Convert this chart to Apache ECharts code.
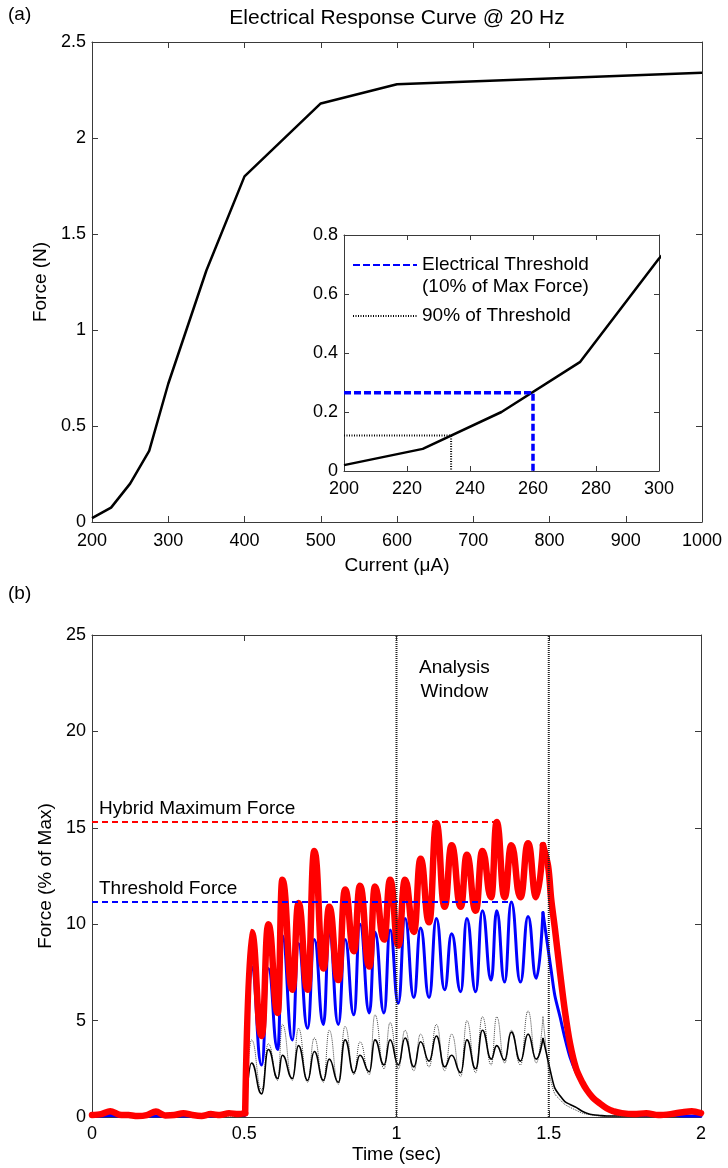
<!DOCTYPE html>
<html><head><meta charset="utf-8">
<script src="https://cdn.jsdelivr.net/npm/echarts@6/dist/echarts.min.js"></script>
<style>html,body{margin:0;padding:0;background:#fff}#c{width:728px;height:1168px}</style>
</head><body><div id="c"></div>
<script>
// ---------- Panel (a): electrical response curve ----------
const currents = [200, 225, 250, 275, 300, 350, 400, 500, 600, 1000];
const forces   = [0.02, 0.075, 0.2, 0.37, 0.72, 1.31, 1.8, 2.18, 2.28, 2.34];
const thresholdCurrent = 260, thresholdForceN = 0.265;
const ninetyCurrent = 234, ninetyForceN = 0.12;

// ---------- Panel (b): force vs time ----------
const time = [
  0, 0.03, 0.06, 0.09, 0.12, 0.15, 0.18, 0.21, 0.24, 0.27, 0.30, 0.33, 0.36, 0.39, 0.42, 0.45, 0.48, 0.503,
  0.524, 0.557, 0.579, 0.610, 0.625, 0.658, 0.678, 0.708, 0.730, 0.760, 0.779, 0.809, 0.831, 0.860, 0.880, 0.911,
  0.929, 0.959, 0.979, 1.006, 1.028, 1.057, 1.079, 1.107, 1.131, 1.158, 1.181, 1.211, 1.231, 1.260, 1.282, 1.311,
  1.329, 1.355, 1.377, 1.407, 1.432, 1.459, 1.481,
  1.498, 1.508, 1.52, 1.537, 1.553, 1.57, 1.59, 1.61, 1.625, 1.645, 1.668, 1.69, 1.711, 1.74, 1.78, 1.82, 1.86, 1.9, 1.94, 1.97, 2.0
];
const hybridForce = [
  0.1, 0.15, 0.3, 0.12, 0.1, 0.05, 0.1, 0.28, 0.08, 0.1, 0.2, 0.1, 0.05, 0.15, 0.1, 0.2, 0.15, 0.2,
  9.6, 4.2, 10.0, 5.4, 12.3, 6.6, 11.1, 6.6, 13.8, 7.7, 10.9, 7.1, 11.8, 8.6, 12.0, 7.8,
  11.95, 9.2, 12.3, 8.9, 12.3, 9.6, 13.4, 10.1, 15.25, 10.9, 14.1, 10.9, 13.6, 10.7, 13.8, 11.4,
  15.3, 11.4, 14.1, 11.4, 14.2, 11.4, 14.1,
  13.0, 11.3, 9.8, 7.5, 5.5, 3.8, 2.5, 1.8, 1.4, 1.0, 0.7, 0.45, 0.3, 0.2, 0.15, 0.2, 0.1, 0.15, 0.25, 0.3, 0.2
];
const thresholdStimForce = [
  0.05, 0.05, 0.08, 0.05, 0.05, 0.03, 0.05, 0.05, 0.05, 0.08, 0.05, 0.05, 0.03, 0.05, 0.1, 0.25, 0.1, 0.1,
  7.8, 2.7, 7.7, 3.5, 9.4, 4.0, 9.0, 4.6, 9.2, 4.8, 9.6, 4.8, 9.2, 5.3, 10.0, 5.4,
  9.6, 5.4, 9.7, 5.9, 10.3, 6.2, 9.8, 6.2, 10.3, 6.6, 9.5, 6.5, 10.3, 6.5, 10.7, 7.1,
  10.7, 7.0, 11.15, 7.0, 10.4, 7.2, 10.6,
  8.7, 7.6, 6.3, 5.2, 4.1, 3.1, 2.3, 1.7, 1.35, 1.0, 0.65, 0.4, 0.25, 0.15, 0.1, 0.1, 0.05, 0.1, 0.05, 0.05, 0.05
];
const subthresholdForce = [
  0.05, 0.05, 0.1, 0.05, 0.05, 0.05, 0.08, 0.05, 0.05, 0.05, 0.05, 0.08, 0.05, 0.05, 0.05, 0.1, 0.05, 0.05,
  2.8, 1.2, 3.5, 2.0, 3.2, 2.0, 3.7, 1.9, 3.4, 1.9, 3.0, 1.8, 4.0, 2.3, 3.2, 2.35,
  4.0, 2.7, 4.0, 2.7, 4.1, 2.6, 3.9, 2.9, 4.2, 2.6, 3.2, 2.3, 4.0, 2.5, 4.5, 3.0,
  3.7, 2.95, 4.4, 2.9, 4.3, 3.0, 4.1,
  2.9, 2.2, 1.5, 1.1, 0.8, 0.65, 0.5, 0.3, 0.2, 0.12, 0.08, 0.05, 0.05, 0.05, 0.05, 0.05, 0.05, 0.05, 0.1, 0.05, 0.05
];
const subthresholdDottedForce = [
  0.03, 0.05, 0.05, 0.03, 0.05, 0.05, 0.05, 0.03, 0.05, 0.05, 0.03, 0.05, 0.05, 0.05, 0.03, 0.05, 0.05, 0.05,
  4.0, 1.4, 3.8, 1.9, 4.8, 1.9, 4.6, 1.8, 4.1, 1.8, 4.5, 1.7, 4.7, 2.2, 3.9, 2.2,
  5.3, 2.5, 4.9, 2.5, 4.5, 2.4, 4.3, 2.6, 4.8, 2.4, 4.3, 2.1, 5.0, 2.3, 5.2, 2.7,
  5.2, 2.8, 4.5, 2.7, 5.5, 2.8, 5.2,
  2.6, 1.8, 1.2, 0.9, 0.65, 0.5, 0.35, 0.2, 0.15, 0.1, 0.05, 0.05, 0.05, 0.05, 0.05, 0.05, 0.05, 0.05, 0.05, 0.05, 0.05
];
// index boundaries of the recording: baseline end / last peak
const onsetIndex = 17, lastPeakIndex = 56;
const hybridMaxLevel = 15.3, hybridMaxEnd = 1.329;
const thresholdLevel = 11.15, thresholdLevelEnd = 1.38;
const windowStart = 1, windowEnd = 1.5;

// ---------- chart ----------
const FONT = '"Liberation Sans", Arial, Helvetica, sans-serif';
const AX = '#3a3a3a';
const chart = echarts.init(document.getElementById('c'), null, {renderer: 'canvas'});

function ax(extra, labels) {
  return Object.assign({
    type: 'value',
    axisLine: {show: true, onZero: false, lineStyle: {color: AX, width: 1}},
    axisTick: {show: true, inside: true, length: 6, lineStyle: {color: AX}},
    splitLine: {show: false},
    axisLabel: {show: labels !== false, color: '#000', fontSize: 18, fontFamily: FONT, margin: 6,
                formatter: v => String(v)},
    nameTextStyle: {color: '#000', fontSize: 19, fontFamily: FONT}
  }, extra);
}
function lbl(margin) { return {show: true, color: '#000', fontSize: 18, fontFamily: FONT, margin: margin, formatter: v => String(v)}; }
const inTick = {show: true, inside: true, length: 5, lineStyle: {color: AX}};
const zip = (xs, ys) => xs.map((x, i) => [x, ys[i]]);
const seg = (ys, a, b) => zip(time.slice(a, b + 1), ys.slice(a, b + 1));

// each trace is drawn in three pieces: baseline, stimulation (oscillating) and decay
function trace(name, ys, style, z) {
  const common = {type: 'line', xAxisIndex: 4, yAxisIndex: 4, symbol: 'none', lineStyle: style, z: z};
  return [
    Object.assign({name: name, data: seg(ys, 0, onsetIndex), smooth: 0.3}, common),
    Object.assign({name: name, data: seg(ys, onsetIndex, lastPeakIndex), smooth: 0.5, smoothMonotone: 'x'}, common),
    Object.assign({name: name, data: seg(ys, lastPeakIndex, time.length - 1), smooth: 0.3}, common)
  ];
}

const legendThr = 'Electrical Threshold\n(10% of Max Force)';
const option = {
  animation: false,
  backgroundColor: '#fff',
  grid: [
    {left: 92, top: 42, width: 610, height: 480},
    {left: 344, top: 235, width: 315, height: 236, show: true, backgroundColor: '#fff', borderWidth: 0, z: 5},
    {left: 92, top: 635, width: 609, height: 482}
  ],
  xAxis: [
    ax({gridIndex: 0, min: 200, max: 1000, interval: 100, position: 'bottom', axisLabel: lbl(10),
        name: 'Current (μA)', nameLocation: 'middle', nameGap: 34}),
    ax({gridIndex: 0, min: 200, max: 1000, interval: 100, position: 'top'}, false),
    ax({gridIndex: 1, min: 200, max: 300, interval: 20, position: 'bottom', z: 6, axisTick: inTick, axisLabel: lbl(9)}),
    ax({gridIndex: 1, min: 200, max: 300, interval: 20, position: 'top', z: 6, axisTick: inTick}, false),
    ax({gridIndex: 2, min: 0, max: 2, interval: 0.5, position: 'bottom', axisLabel: lbl(8),
        name: 'Time (sec)', nameLocation: 'middle', nameGap: 28}),
    ax({gridIndex: 2, min: 0, max: 2, interval: 0.5, position: 'top'}, false)
  ],
  yAxis: [
    ax({gridIndex: 0, min: 0, max: 2.5, interval: 0.5, position: 'left',
        name: 'Force (N)', nameLocation: 'middle', nameGap: 42, nameRotate: 90}),
    ax({gridIndex: 0, min: 0, max: 2.5, interval: 0.5, position: 'right'}, false),
    ax({gridIndex: 1, min: 0, max: 0.8, interval: 0.2, position: 'left', z: 6, axisTick: inTick}),
    ax({gridIndex: 1, min: 0, max: 0.8, interval: 0.2, position: 'right', z: 6, axisTick: inTick}, false),
    ax({gridIndex: 2, min: 0, max: 25, interval: 5, position: 'left',
        name: 'Force (% of Max)', nameLocation: 'middle', nameGap: 36, nameRotate: 90}),
    ax({gridIndex: 2, min: 0, max: 25, interval: 5, position: 'right'}, false)
  ],
  legend: {
    show: true, orient: 'vertical', left: 347, top: 227, z: 12,
    itemWidth: 64, itemHeight: 10, itemGap: 7,
    itemStyle: {opacity: 0},
    textStyle: {color: '#000', fontSize: 19, fontFamily: FONT, lineHeight: 22},
    formatter: n => n === legendThr ? '\n' + n : n,
    data: [legendThr, '90% of Threshold']
  },
  series: [
    {type: 'line', name: 'Response', xAxisIndex: 0, yAxisIndex: 0, data: zip(currents, forces),
     symbol: 'none', lineStyle: {color: '#000', width: 2.5}, z: 2},
    {type: 'line', name: 'Response inset', xAxisIndex: 2, yAxisIndex: 2, data: zip(currents, forces),
     symbol: 'none', clip: true, lineStyle: {color: '#000', width: 2.5}, z: 10},
    {type: 'line', name: legendThr, xAxisIndex: 2, yAxisIndex: 2,
     data: [[currents[0], thresholdForceN], [thresholdCurrent, thresholdForceN], [thresholdCurrent, 0]],
     symbol: 'none', lineStyle: {color: '#0000ff', width: 3.5, type: [7, 3]}, itemStyle: {color: '#0000ff'}, z: 11},
    {type: 'line', name: '90% of Threshold', xAxisIndex: 2, yAxisIndex: 2,
     data: [[currents[0], ninetyForceN], [ninetyCurrent, ninetyForceN], [ninetyCurrent, 0]],
     symbol: 'none', lineStyle: {color: '#000', width: 2, type: [1, 1.5]}, itemStyle: {color: '#000'}, z: 11},

    ...trace('Subthreshold (dotted)', subthresholdDottedForce, {color: '#444', width: 1, type: [1, 1]}, 2),
    ...trace('Subthreshold', subthresholdForce, {color: '#000', width: 1.6}, 3),
    ...trace('Threshold stimulation', thresholdStimForce, {color: '#0000ff', width: 3, cap: 'round'}, 4),
    ...trace('Hybrid stimulation', hybridForce, {color: '#ff0000', width: 6.5, cap: 'round'}, 5),

    {type: 'line', name: 'Hybrid Maximum Force', xAxisIndex: 4, yAxisIndex: 4,
     data: [[0, hybridMaxLevel], [hybridMaxEnd, hybridMaxLevel]],
     symbol: 'none', lineStyle: {color: '#ff0000', width: 2, type: [6, 4]}, z: 6},
    {type: 'line', name: 'Threshold Force', xAxisIndex: 4, yAxisIndex: 4,
     data: [[0, thresholdLevel], [thresholdLevelEnd, thresholdLevel]],
     symbol: 'none', lineStyle: {color: '#0000ff', width: 2, type: [6, 4]}, z: 6},
    {type: 'line', name: 'Window start', xAxisIndex: 4, yAxisIndex: 4, data: [[windowStart, 0], [windowStart, 25]],
     symbol: 'none', lineStyle: {color: '#222', width: 2, type: [1, 1]}, z: 20},
    {type: 'line', name: 'Window end', xAxisIndex: 4, yAxisIndex: 4, data: [[windowEnd, 0], [windowEnd, 25]],
     symbol: 'none', lineStyle: {color: '#222', width: 2, type: [1, 1]}, z: 20}
  ]
};
chart.setOption(option);

const pHyb = chart.convertToPixel({gridIndex: 2}, [0, hybridMaxLevel]);
const pThr = chart.convertToPixel({gridIndex: 2}, [0, thresholdLevel]);
const aw = chart.convertToPixel({gridIndex: 2}, [(windowStart + windowEnd) / 2 - 0.06, 22.7]);
const txt = (s, x, y, extra) => ({type: 'text', x: x, y: y, z: 30,
  style: Object.assign({text: s, fontSize: 19, fontFamily: FONT, fill: '#000'}, extra)});
chart.setOption({
  graphic: [
    txt('(a)', 8, 5, {}),
    txt('(b)', 8, 584, {}),
    txt('Electrical Response Curve @ 20 Hz', 397, 18, {fontSize: 21, align: 'center', verticalAlign: 'middle'}),
    txt('Hybrid Maximum Force', pHyb[0] + 7, pHyb[1] - 4, {verticalAlign: 'bottom'}),
    txt('Threshold Force', pThr[0] + 7, pThr[1] - 4, {verticalAlign: 'bottom'}),
    txt('Analysis\nWindow', aw[0], aw[1], {lineHeight: 24, align: 'center', verticalAlign: 'middle'})
  ]
});
</script>
</body></html>
